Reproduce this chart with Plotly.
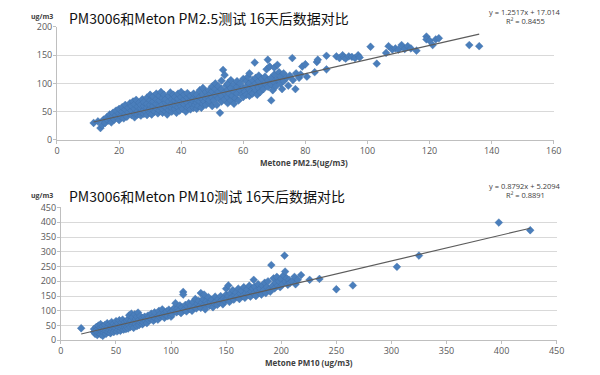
import plotly.graph_objects as go

# ---------------- data: PM2.5 (x = Metone, y = PM3006) ----------------
pm25_x = [11.8,13.2,14,14.5,15,15.5,16,16.5,17,17,17.5,18,18,18.5,19,19,19.5,20,20,20,
          20.5,21,21,21.5,22,22,22,22.5,23,23,23.5,24,24,24,24.5,25,25,25,25,25.5,26,26,26,26.5,27,27,27,27,27.5,28,28,28,28,28.5,29,29,29,29,29.5,30,30,30,30,30,
          30.5,31,31,31,31,31.5,32,32,32,32,32.5,33,33,33,33,33.5,34,34,34,34,34.5,35,35,35,35,35.5,36,36,36,36,36.5,37,37,37,37,37.5,38,38,38,38,38.5,39,39,39,39,39.5,40,40,40,40,
          40.5,41,41,41,41.5,42,42,42,42,42.5,43,43,43,43.5,44,44,44,44,44.5,45,45,45,45,45.5,46,46,46,46.5,47,47,47,47,47.5,48,48,48,48.5,49,49,49,49.5,50,50,50,50,
          50.5,51,51,51,51.5,52,52,52,52.5,53,53,53,53,53.5,54,54,54,54.5,55,55,55,55,55.5,56,56,56,56.5,57,57,57,57.5,58,58,58,58.5,59,59,59.5,60,60,60,
          60.5,61,61,61,61.5,62,62,62,62,62.5,63,63,63,63.7,64,64,64,64.5,65,65,65,65.5,66,66,66.5,67,67,67.5,67.9,68,68,68.5,69,69,69,69.5,70,70,70,
          70.5,71,71,71.5,72,72,72.5,73,73,74,74.5,75,75.8,76,76.8,77,78,78.5,79,80,80.5,
          83,83.7,84,86.8,86.8,90,91,92,92.5,93,94,95,96,97,97.5,101,103,106,106.8,108,109,110,111,112,113,114,115.8,119,119,120,121,122,123,132.8,136]
pm25_y = [30,33,21,26,36,30,40,34,38,45,31,42,48,36,44,52,39,47,55,35,
          42,50,58,38,46,54,62,41,49,57,65,44,52,60,68,40,47,55,63,71,45,51,59,66,43,49,56,62,72,46,53,60,67,50,44,57,64,75,52,48,55,62,70,80,
          45,53,60,68,77,50,56,64,72,82,47,52,60,70,78,85,48,55,63,74,80,50,58,66,72,45,53,61,68,78,84,50,57,64,72,80,55,62,70,76,48,58,66,73,82,52,60,68,76,85,
          55,63,72,80,50,58,66,75,83,60,54,70,78,64,57,68,74,82,62,55,66,72,80,60,68,76,88,57,64,72,80,92,68,62,74,85,78,66,70,88,82,60,75,86,95,
          70,80,90,100,62,74,85,95,48,68,78,90,105,124,72,84,115,96,65,76,88,100,82,70,92,106,78,64,86,98,74,82,94,104,70,88,100,80,76,92,108,
          85,80,95,104,112,78,90,100,118,86,82,96,106,137,88,100,110,80,92,104,114,85,96,108,90,100,112,125,142,94,106,130,70,98,110,88,102,116,128,
          95,133,108,120,100,112,90,118,104,110,96,114,145,106,90,118,110,116,130,134,112,
          120,138,142,149,125,148,145,150,146,144,148,147,145,150,146,165,135,154,166,160,162,160,168,161,166,162,158,183,178,176,168,178,180,168,166]

# ---------------- data: PM10 (x = Metone, y = PM3006) ----------------
pm10_x = [18.4,
          30,30,31,32,32,33,33,34,34,35,35,36,36,36,37,37,38,38,39,39,40,40,41,41,42,42,43,43,44,44,45,45,46,46,46,47,47,48,48,49,49,50,50,50,51,51,52,52,53,53,54,54,55,55,56,56,57,57,58,58,59,59,60,60,60,
          61,61,62,62,63,63,64,64,65,65,66,66,67,67,68,68,69,69,70,70,71,71,72,72,73,74,74,75,75,76,77,78,78,79,80,80,82,82,84,84,85,86,88,88,89,90,90,92,92,94,94,95,96,97,98,99,100,100,
          101,102,103,104,105,106,107,108,109,110,111,111,112,113,114,115,116,117,118,119,120,121,122,123,124,125,126,127,127,128,129,130,130,131,132,133,134,135,136,137,138,139,140,141,142,143,144,145,146,147,148,149,150,150,150,152,
          151,152,153,154,155,156,157,158,159,160,161,162,163,164,165,166,167,168,169,170,171,172,173,174,175,175,176,177,178,179,180,181,182,183,184,185,186,187,188,189,190,191,192,193,194,195,196,197,198,199,200,201,202,203,203.5,204,205,206,207,208,210,212,213,215,218,225.8,234.7,250,265,305,325,397.5,426]
pm10_y = [41,
          28,38,22,45,33,18,28,40,50,25,35,20,44,55,30,38,15,48,26,35,42,52,22,32,38,58,28,46,35,54,24,42,30,50,62,38,46,28,56,34,44,40,52,65,30,48,36,58,44,68,32,50,40,60,46,70,36,54,44,62,50,38,56,66,45,
          40,72,52,85,60,45,68,90,50,78,58,42,64,88,55,72,48,80,62,94,52,70,60,82,66,54,76,70,60,80,65,74,58,84,68,78,72,90,66,80,95,74,82,70,100,78,88,84,105,76,92,86,98,82,104,90,96,80,
          88,102,110,126,95,108,100,118,92,112,164,155,104,120,98,114,126,106,118,100,130,112,140,108,124,134,116,110,160,128,140,120,155,105,132,124,146,118,130,138,112,126,148,132,120,140,128,150,136,122,142,132,155,140,175,186,
          140,150,130,160,145,170,138,152,162,148,175,140,158,168,150,180,144,160,172,155,185,148,165,176,205,158,182,150,170,190,162,175,155,185,170,195,160,180,200,172,165,255,185,210,176,195,215,185,200,180,208,190,220,287,233,198,210,188,205,195,200,215,190,205,221,205,208,173,186,249,287,399,373]

# trendline coefficients (as printed on the chart)
slope25, icpt25 = 1.2517, 17.014
slope10, icpt10 = 0.8792, 5.2094

W, H = 600, 375
def fx(p): return p / W
def fy(p): return 1 - p / H

BLUE = "#4a7ebb"
MSIZE = 6
fig = go.Figure()

fig.add_trace(go.Scatter(x=pm25_x, y=pm25_y, mode="markers", xaxis="x", yaxis="y",
                         marker=dict(symbol="diamond", size=MSIZE, color=BLUE,
                                     line=dict(width=0.4, color="#3f6fa8")),
                         showlegend=False, hoverinfo="x+y"))
t25x = [min(pm25_x), max(pm25_x)]
fig.add_trace(go.Scatter(x=t25x, y=[slope25 * v + icpt25 for v in t25x], mode="lines",
                         xaxis="x", yaxis="y", line=dict(color="#5c5c5c", width=1.2),
                         showlegend=False, hoverinfo="skip"))

fig.add_trace(go.Scatter(x=pm10_x, y=pm10_y, mode="markers", xaxis="x2", yaxis="y2",
                         marker=dict(symbol="diamond", size=MSIZE, color=BLUE,
                                     line=dict(width=0.4, color="#3f6fa8")),
                         showlegend=False, hoverinfo="x+y"))
t10x = [min(pm10_x), max(pm10_x)]
fig.add_trace(go.Scatter(x=t10x, y=[slope10 * v + icpt10 for v in t10x], mode="lines",
                         xaxis="x2", yaxis="y2", line=dict(color="#5c5c5c", width=1.2),
                         showlegend=False, hoverinfo="skip"))

tickfont = dict(family="Open Sans, Liberation Sans, sans-serif", size=9, color="#595959")
axcommon = dict(showline=True, linecolor="#bfbfbf", linewidth=1, ticks="outside",
                ticklen=3, tickcolor="#bfbfbf", tickfont=tickfont, zeroline=False,
                ticklabelstandoff=-1)

fig.update_layout(
    width=W, height=H, margin=dict(l=0, r=0, t=0, b=0),
    paper_bgcolor="white", plot_bgcolor="white",
    xaxis=dict(domain=[fx(55), fx(561)], range=[0, 160], dtick=20, showgrid=False,
               anchor="y", **axcommon),
    yaxis=dict(domain=[fy(137.7), fy(20.7)], range=[0, 200], dtick=50, showgrid=True,
               gridcolor="#d9d9d9", anchor="x", **axcommon),
    xaxis2=dict(domain=[fx(59), fx(564)], range=[0, 450], dtick=50, showgrid=False,
                anchor="y2", **axcommon),
    yaxis2=dict(domain=[fy(345.3), fy(207.7)], range=[0, 450], dtick=50, showgrid=True,
                gridcolor="#d9d9d9", anchor="x2", **axcommon),
)

ann = []
titlefont = dict(family="Noto Sans CJK SC, Noto Sans, sans-serif", size=14, color="#111111")
ann.append(dict(text="PM3006和Meton PM2.5测试 16天后数据对比", x=fx(65), y=fy(11), xanchor="left",
                yanchor="middle", font=titlefont))
ann.append(dict(text="PM3006和Meton PM10测试 16天后数据对比", x=fx(65), y=fy(196), xanchor="left",
                yanchor="middle", font=titlefont))
unitfont = dict(family="Open Sans, Liberation Sans, sans-serif", size=7, color="#404040")
ann.append(dict(text="<b>ug/m3</b>", x=fx(40), y=fy(10), xanchor="center", yanchor="middle", font=unitfont))
ann.append(dict(text="<b>ug/m3</b>", x=fx(40), y=fy(195), xanchor="center", yanchor="middle", font=unitfont))
axtfont = dict(family="Open Sans, Liberation Sans, sans-serif", size=8, color="#404040")
ann.append(dict(text="<b>Metone PM2.5(ug/m3)</b>", x=fx(307), y=fy(161), xanchor="center",
                yanchor="middle", font=axtfont))
ann.append(dict(text="<b>Metone PM10 (ug/m3)</b>", x=fx(312), y=fy(368.5), xanchor="center",
                yanchor="middle", font=axtfont))
eqfont = dict(family="Open Sans, Liberation Sans, sans-serif", size=7.5, color="#404040")
ann.append(dict(text="y = 1.2517x + 17.014", x=fx(532), y=fy(5), xanchor="center", yanchor="middle", font=eqfont))
ann.append(dict(text="R² = 0.8455", x=fx(532), y=fy(15), xanchor="center", yanchor="middle", font=eqfont))
ann.append(dict(text="y = 0.8792x + 5.2094", x=fx(532), y=fy(185), xanchor="center", yanchor="middle", font=eqfont))
ann.append(dict(text="R² = 0.8891", x=fx(532), y=fy(195), xanchor="center", yanchor="middle", font=eqfont))
for a in ann:
    a.update(xref="paper", yref="paper", showarrow=False)
fig.update_layout(annotations=ann)

fig.write_html("out.html", config={"displayModeBar": False},
               post_script="document.body.style.margin='0';")
